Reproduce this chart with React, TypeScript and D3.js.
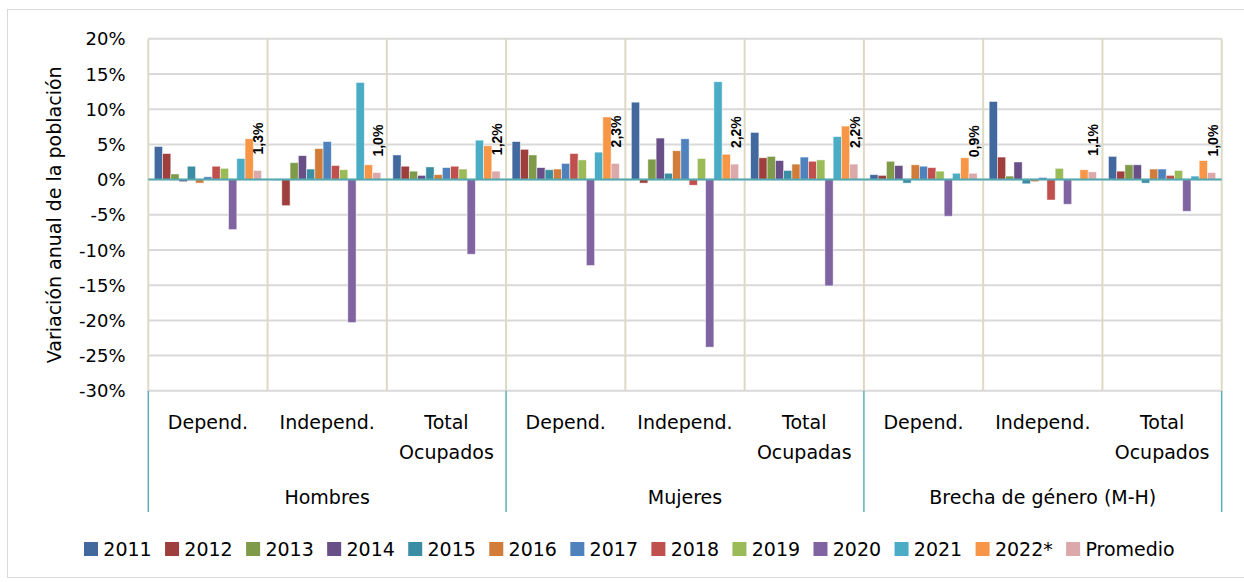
import React from "react";
import * as d3 from "d3";

const subCategories = [
  "Depend.", "Independ.", "Total Ocupados",
  "Depend.", "Independ.", "Total Ocupadas",
  "Depend.", "Independ.", "Total Ocupados",
];
const groups = ["Hombres", "Mujeres", "Brecha de género (M-H)"];
const seriesNames = ["2011", "2012", "2013", "2014", "2015", "2016", "2017", "2018", "2019", "2020", "2021", "2022*", "Promedio"];
const seriesColors = ["#41699D", "#9F3F3D", "#7F9A48", "#684F87", "#3B8DA4", "#D17C38", "#4F81BD", "#C0504D", "#9BBB59", "#8064A2", "#4BACC6", "#F79646", "#DCA9AA"];

const s2011 = [4.7, -0.1, 3.5, 5.4, 11.0, 6.7, 0.7, 11.1, 3.3];
const s2012 = [3.7, -3.7, 1.9, 4.3, -0.5, 3.1, 0.6, 3.2, 1.2];
const s2013 = [0.8, 2.4, 1.2, 3.5, 2.9, 3.3, 2.6, 0.5, 2.1];
const s2014 = [-0.3, 3.4, 0.6, 1.7, 5.9, 2.7, 2.0, 2.5, 2.1];
const s2015 = [1.9, 1.5, 1.8, 1.4, 0.9, 1.3, -0.5, -0.6, -0.5];
const s2016 = [-0.5, 4.4, 0.7, 1.5, 4.1, 2.2, 2.1, -0.3, 1.5];
const s2017 = [0.4, 5.4, 1.7, 2.3, 5.8, 3.2, 1.9, 0.3, 1.5];
const s2018 = [1.9, 2.0, 1.9, 3.7, -0.8, 2.6, 1.7, -2.9, 0.6];
const s2019 = [1.6, 1.4, 1.5, 2.8, 3.0, 2.8, 1.2, 1.6, 1.3];
const s2020 = [-7.1, -20.3, -10.6, -12.2, -23.8, -15.1, -5.2, -3.5, -4.5];
const s2021 = [3.0, 13.8, 5.6, 3.9, 13.9, 6.1, 0.9, 0.1, 0.5];
const s2022 = [5.8, 2.1, 4.8, 8.9, 3.6, 7.6, 3.1, 1.4, 2.7];
const promedio = [1.3, 1.0, 1.2, 2.3, 2.2, 2.2, 0.9, 1.1, 1.0];

const seriesValues = [s2011, s2012, s2013, s2014, s2015, s2016, s2017, s2018, s2019, s2020, s2021, s2022, promedio];
const yTicks = [20, 15, 10, 5, 0, -5, -10, -15, -20, -25, -30];

const W = 1244;
const H = 582;
const PL = 148.3;
const PR = 1221.7;
const PT = 38.8;
const PB = 390.8;
const FONT = "'DejaVu Sans', sans-serif";

function measure(text: string, font: string): number {
  const c = document.createElement("canvas");
  const ctx = c.getContext("2d");
  if (!ctx) return text.length * 10;
  ctx.font = font;
  return ctx.measureText(text).width;
}

export default function App() {
  const x = d3.scaleBand<number>().domain(d3.range(subCategories.length)).range([PL, PR]).paddingInner(0).paddingOuter(0);
  const bw = x.bandwidth();
  const xi = d3.scaleBand<number>().domain(d3.range(seriesNames.length)).range([6, bw - 6]).padding(0);
  const y = d3.scaleLinear().domain([-30, 20]).range([PB, PT]);

  const groupX = d3.scaleBand<number>().domain(d3.range(groups.length)).range([PL, PR]);

  // legend layout
  const legFont = `19px ${FONT}`;
  const sq = 14;
  const textGap = 5.3;
  const itemGap = 13.4;
  const widths = seriesNames.map((n) => measure(n, legFont));
  const itemW = widths.map((w) => sq + textGap + w + itemGap);
  const legStart = 84;
  const offsets = itemW.map((_, i) => legStart + d3.sum(itemW.slice(0, i)));

  const promIdx = seriesNames.length - 1;

  return (
    <div style={{ position: "absolute", left: 0, top: 0 }}>
      <svg width={W} height={H} style={{ display: "block", background: "#fff" }}>
        <rect x={7.5} y={9.5} width={1260} height={568} fill="#fff" stroke="#D9D9D9" strokeWidth={1} />
        {/* horizontal gridlines */}
        {yTicks.map((t) => (
          <line key={"g" + t} x1={PL} x2={PR} y1={y(t)} y2={y(t)} stroke="#D9D9D9" strokeWidth={2} />
        ))}
        {/* vertical gridlines */}
        {d3.range(subCategories.length + 1).map((i) => {
          const xx = i < subCategories.length ? x(i)! : PR;
          return <line key={"v" + i} x1={xx} x2={xx} y1={PT} y2={PB} stroke="#DDD9C3" strokeWidth={2} />;
        })}
        {/* bars */}
        {seriesValues.map((vals, si) =>
          vals.map((v, ci) => {
            const bx = x(ci)! + xi(si)!;
            const y0 = y(0);
            const y1 = y(v);
            return (
              <rect
                key={si + "-" + ci}
                x={bx}
                y={Math.min(y0, y1)}
                width={xi.bandwidth()}
                height={Math.abs(y1 - y0)}
                fill={seriesColors[si]}
                stroke="#ffffff"
                strokeOpacity={0.6}
                strokeWidth={0.8}
              />
            );
          })
        )}
        {/* zero line */}
        <line x1={PL} x2={PR} y1={y(0)} y2={y(0)} stroke="#55AAB2" strokeWidth={2} />
        {/* data labels for Promedio */}
        {promedio.map((v, ci) => {
          const cx = x(ci)! + xi(promIdx)! + xi.bandwidth() / 2 + 1;
          const ty = y(v) - 16;
          return (
            <text
              key={"l" + ci}
              transform={`translate(${cx},${ty}) rotate(-90)`}
              textAnchor="start"
              dominantBaseline="central"
              fontFamily="'Liberation Sans', Arial, sans-serif"
              fontWeight="bold"
              fontSize={14}
              fill="#000"
            >
              {v.toFixed(1).replace(".", ",") + "%"}
            </text>
          );
        })}
        {/* y tick labels */}
        {yTicks.map((t) => (
          <text key={"t" + t} x={125.5} y={y(t)} textAnchor="end" dominantBaseline="central" fontFamily={FONT} fontSize={18} fill="#000">
            {t + "%"}
          </text>
        ))}
        {/* y title */}
        <text
          transform={`translate(61,${(PT + PB) / 2}) rotate(-90)`}
          textAnchor="middle"
          fontFamily={FONT}
          fontSize={19}
          fill="#000"
        >
          Variación anual de la población
        </text>
        {/* category axis group separators */}
        {d3.range(groups.length + 1).map((g) => {
          const xx = g < groups.length ? groupX(g)! : PR;
          return <line key={"s" + g} x1={xx} x2={xx} y1={PB} y2={512} stroke="#5AB0B5" strokeWidth={1.5} />;
        })}
        {/* sub category labels */}
        {subCategories.map((c, i) => {
          const cx = x(i)! + bw / 2;
          const lines = c.split(" ");
          return (
            <text key={"c" + i} x={cx} y={429} textAnchor="middle" fontFamily={FONT} fontSize={19} fill="#000">
              {lines.map((ln, li) => (
                <tspan key={li} x={cx} y={429 + li * 30}>
                  {ln}
                </tspan>
              ))}
            </text>
          );
        })}
        {/* group labels */}
        {groups.map((g, i) => (
          <text key={"gr" + i} x={groupX(i)! + groupX.bandwidth() / 2} y={504} textAnchor="middle" fontFamily={FONT} fontSize={19} fill="#000">
            {g}
          </text>
        ))}
        {/* legend */}
        {seriesNames.map((n, i) => (
          <g key={"lg" + i} transform={`translate(${offsets[i]},0)`}>
            <rect x={0} y={542} width={sq} height={sq} fill={seriesColors[i]} />
            <text x={sq + textGap} y={556} fontFamily={FONT} fontSize={19} fill="#000">
              {n}
            </text>
          </g>
        ))}
      </svg>
    </div>
  );
}
